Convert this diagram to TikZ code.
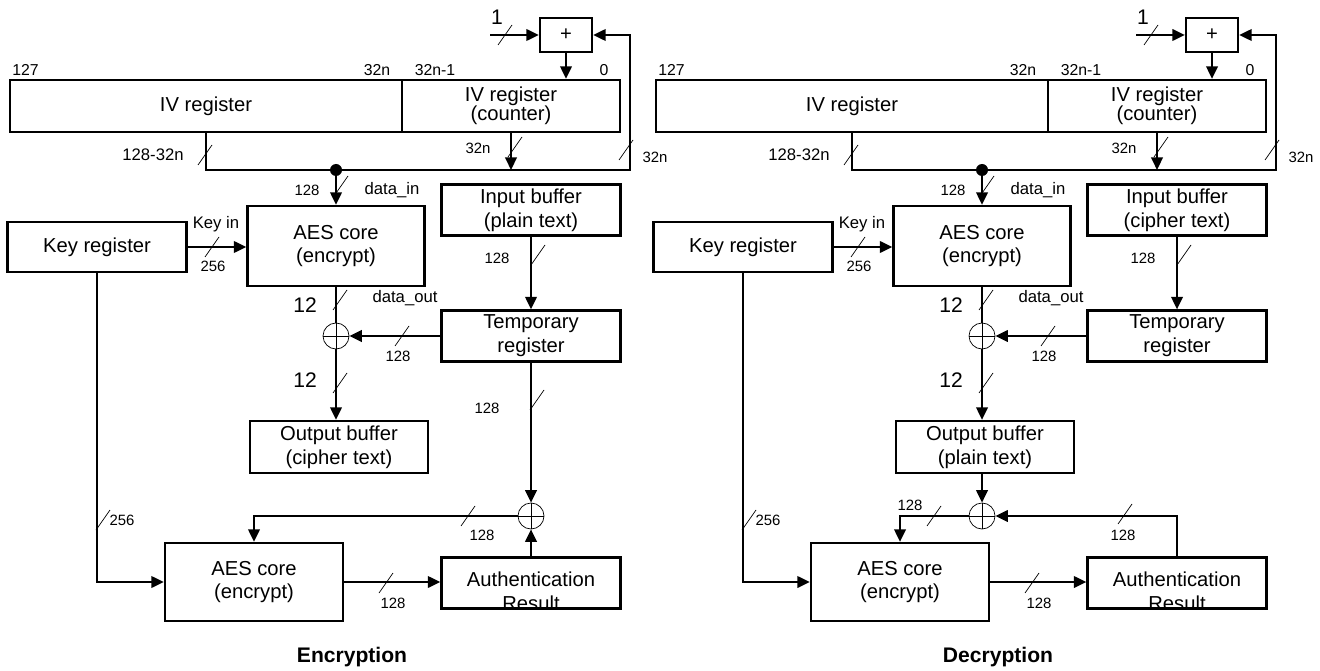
\documentclass[tikz,border=0pt]{standalone}
\usepackage{fontspec}
\setmainfont{Liberation Sans}
\usetikzlibrary{arrows.meta,positioning,calc}

% bus width mark
\newcommand{\busw}[2]{\draw[cut] (#1,#2) ++(-7,10) -- ++(14,-20);}

\begin{document}
\begin{tikzpicture}[x=0.2mm,y=-0.2mm,>={Triangle[length=2.5mm,width=2.3mm]},
 box/.style={draw,line width=1.3pt,align=center,inner sep=1pt,font=\fontsize{11.5}{13.5}\selectfont},
 arr/.style={->,line width=1.2pt},wire/.style={line width=1.2pt},cut/.style={thin},
 num/.style={inner sep=0pt,font=\fontsize{8.5}{9}\selectfont},
 bit/.style={inner sep=0pt,font=\fontsize{9}{10}\selectfont},
 lbl/.style={inner sep=0pt,font=\fontsize{9.5}{11}\selectfont},
 big/.style={inner sep=0pt,font=\fontsize{12}{13}\selectfont},
 dot/.style={circle,fill,inner sep=0pt,minimum size=2.4mm},
 xor/.style={circle,draw,thin,minimum size=5.2mm,inner sep=0pt,
  path picture={\draw[thin] (path picture bounding box.north)--(path picture bounding box.south)
   (path picture bounding box.west)--(path picture bounding box.east);}}]
\useasboundingbox (0,0) rectangle (1320,671);

\foreach \p/\sx/\inb/\outb/\xbx/\ttl in {enc/0/plain text/cipher text/531/Encryption,dec/646/cipher text/plain text/336/Decryption}{
\begin{scope}[shift={(\sx,0)},name prefix=\p-]
% registers and blocks
\node[box,minimum width=78.4mm,minimum height=10.4mm] (ivl) at (206,106) {IV register};
\node[box,minimum width=43.6mm,minimum height=10.4mm] (ivc) at (511,106) {IV register\\[-2.5pt](counter)};
\node[box,minimum width=10.4mm,minimum height=6.8mm] (plus) at (566,35) {+};
\node[box,minimum width=35.8mm,minimum height=10mm] (key) at (97,247) {Key register};
\node[box,minimum width=35.4mm,minimum height=16mm] (aes1) at (336,246) {AES core\\(encrypt)};
\node[box,minimum width=35.8mm,minimum height=10.2mm] (inb) at (531,210) {Input buffer\\(\inb)};
\node[box,minimum width=35.8mm,minimum height=10.2mm] (tmp) at (531,336) {Temporary\\register};
\node[box,minimum width=35.6mm,minimum height=10.4mm] (outb) at (339,447) {Output buffer\\(\outb)};
\node[box,minimum width=35.6mm,minimum height=15.6mm] (aes2) at (254,582) {AES core\\(encrypt)};
\node[box,minimum width=35.8mm,minimum height=10.2mm] (auth) at (531,583) {};
\begin{scope}
\clip (auth.south west) rectangle (auth.north east);
\node[box,draw=none] (authtxt) at (531,591) {Authentication\\Result};
\end{scope}
\node[xor] (xa) at (336,336) {};
\node[xor] (xb) at (\xbx,516) {};
\node[dot] (jn) at (336,170) {};
\coordinate (fb) at (630,170);
\coordinate (one) at (490,35);

% counter loop and data_in bus
\draw[arr] (one) -- (plus.west);
\draw[arr] (plus.south) -- (plus.south |- ivc.north);
\draw[arr] (ivl.south) -- (ivl.south |- jn) -- (fb) -- (fb |- plus) -- (plus.east);
\draw[arr] (ivc.south) -- (ivc.south |- jn);
\draw[arr] (jn) -- (aes1.north);
\draw[arr] (key.east) -- (key.east -| aes1.west);
\draw[arr] (inb) -- (tmp);
\draw[wire] (aes1) -- (xa);
\draw[arr] (tmp) -- (xa);
\draw[arr] (xa) -- (xa |- outb.north);
\draw[arr] (key.south) |- (aes2.west);
\draw[arr] (aes2.east) -- (aes2.east -| auth.west);

% bit labels
\node[bit,anchor=west] (b127) at (12,70) {127};
\node[bit] (b32n) at (377,70) {32n};
\node[bit] (b32m) at (435,70) {32n-1};
\node[bit] (b0) at (604,70) {0};
\node[big] (lone) at (497,17) {1};
\node[lbl] (lhi) at (153,155) {128-32n};
\node[num] (lcnt) at (478,148) {32n};
\node[num] (lfb) at (655,157) {32n};
\node[num] (ldin) at (307,190) {128};
\node[lbl] (ldi) at (392,190) {data\_in};
\node[lbl] (lkey) at (216,224) {Key in};
\node[num] (lkw) at (213,266) {256};
\node[num] (linw) at (497,258) {128};
\node[big] (ldo1) at (305,305) {12};
\node[lbl] (ldo) at (405,298) {data\_out};
\node[num] (ltw) at (398,356) {128};
\node[big] (ldo2) at (305,380) {12};
\node[num] (lkb) at (122,520) {256};
\node[num] (law) at (393,603) {128};
\node[font=\bfseries\fontsize{12}{14}\selectfont] (cap) at (352,657) {\ttl};

\busw{505}{35}
\busw{205}{155}
\busw{515}{147}
\busw{626}{150}
\busw{341}{186}
\busw{212}{247}
\busw{538}{255}
\busw{340}{300}
\busw{402}{336}
\busw{340}{383}
\busw{103}{520}
\busw{386}{583}
\end{scope}
}

% encryption tag path
\draw[arr] (enc-tmp) -- (enc-xb);
\draw[arr] (enc-auth) -- (enc-xb);
\draw[arr] (enc-xb.west) -| (enc-aes2.north);
\node[num] (etw) at (487,408) {128};
\node[num] (exw) at (482,535) {128};
\busw{537}{400}
\busw{468}{516}

% decryption tag path
\draw[arr] (dec-outb.south -| dec-xb) -- (dec-xb);
\draw[arr] (dec-xb.west) -| (dec-aes2.north);
\draw[arr] (dec-auth.north) |- (dec-xb.east);
\node[num] (dxw) at (910,505) {128};
\node[num] (daw) at (1123,535) {128};
\busw{934}{516}
\busw{1125}{514}
\end{tikzpicture}
\end{document}
